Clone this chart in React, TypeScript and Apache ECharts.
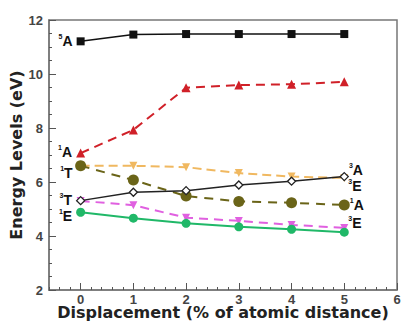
import React, { useEffect, useRef } from "react";
import * as echarts from "echarts";

const xValues = [0, 1, 2, 3, 4, 5];
const xTickLabels = [0, 1, 2, 3, 4, 5, 6];
const s5A = [11.21, 11.46, 11.48, 11.48, 11.48, 11.48];
const s1A = [7.07, 7.93, 9.49, 9.59, 9.62, 9.71];
const s1T = [6.6, 6.6, 6.55, 6.33, 6.2, 6.15];
const s3A = [5.31, 5.62, 5.68, 5.89, 6.03, 6.2];
const sOlive = [6.6, 6.07, 5.48, 5.28, 5.23, 5.15];
const s3E = [5.3, 5.14, 4.68, 4.56, 4.41, 4.3];
const s1E = [4.88, 4.66, 4.47, 4.34, 4.25, 4.14];

const FONT = "Liberation Sans";
const TITLE_FONT = "DejaVu Sans";

const rich = {
  s: { fontSize: 7, fontWeight: "bold", fontFamily: FONT, color: "#111", verticalAlign: "top", lineHeight: 16, padding: [0, 0, 8, 0] },
  b: { fontSize: 14, fontWeight: "bold", fontFamily: FONT, color: "#111", lineHeight: 16 },
};

function lbl(sup: string, letter: string, position: string, offset: number[]) {
  return {
    show: true,
    position,
    distance: 2,
    offset,
    formatter: `{s|${sup}}{b|${letter}}`,
    rich,
  };
}

function mkData(vals: number[], labels: Record<number, any>) {
  return vals.map((v, i) => (labels[i] ? { value: [xValues[i], v], label: labels[i] } : { value: [xValues[i], v] }));
}

export default function App() {
  const ref = useRef<HTMLDivElement>(null);
  useEffect(() => {
    const chart = echarts.init(ref.current!, null, { renderer: "svg" });
    const axisLabelStyle = { color: "#444", fontSize: 13, fontWeight: "bold", fontFamily: FONT };
    const tickColor = "#555";
    chart.setOption({
      animation: false,
      grid: { left: 49, top: 20, right: 6, bottom: 35, show: true, borderColor: "#777", borderWidth: 1.5, containLabel: false, outerBoundsMode: "none" },
      xAxis: [
        {
          type: "value",
          min: -0.6,
          max: 6,
          interval: 0.2,
          axisLine: { show: true, onZero: false, lineStyle: { color: "#777", width: 1.5 } },
          axisTick: { show: true, inside: false, length: -3, lineStyle: { color: tickColor, width: 1 } },
          axisLabel: { show: false },
          splitLine: { show: false },
        },
        {
          type: "value",
          position: "bottom",
          min: -0.6,
          max: 6,
          axisLine: { show: false, onZero: false },
          axisTick: { show: true, inside: false, length: -7, lineStyle: { color: tickColor, width: 1 }, customValues: xTickLabels },
          axisLabel: { ...axisLabelStyle, margin: 3, customValues: xTickLabels },
          splitLine: { show: false },
          name: "Displacement (% of atomic distance)",
          nameLocation: "middle",
          nameMoveOverlap: false,
          nameGap: 14,
          nameTextStyle: { fontSize: 16, fontWeight: "bold", fontFamily: TITLE_FONT, color: "#222" },
        },
      ],
      yAxis: {
        type: "value",
        min: 2,
        max: 12,
        interval: 2,
        axisLine: { show: true, onZero: false, lineStyle: { color: "#777", width: 1.5 } },
        axisTick: { show: true, inside: false, length: -7, lineStyle: { color: tickColor, width: 1 } },
        minorTick: { show: true, splitNumber: 4, length: -3, lineStyle: { color: tickColor, width: 1 } },
        axisLabel: { ...axisLabelStyle, margin: 6 },
        splitLine: { show: false },
        name: "Energy Levels (eV)",
        nameLocation: "middle",
        nameMoveOverlap: false,
        nameGap: 25,
        nameTextStyle: { fontSize: 16, fontWeight: "bold", fontFamily: TITLE_FONT, color: "#222" },
      },
      series: [
        {
          type: "line",
          data: mkData(s1T, { 0: lbl("1", "T", "left", [-2, 7]), 5: lbl("3", "E", "right", [-2, 8]) }),
          symbol: "triangle",
          symbolRotate: 180,
          symbolSize: 8,
          itemStyle: { color: "#f0b860" },
          lineStyle: { color: "#f0b860", width: 2, type: [9, 5] },
          z: 2,
        },
        {
          type: "line",
          data: mkData(sOlive, { 5: lbl("1", "A", "right", [-2, 0]) }),
          symbol: "circle",
          symbolSize: 11,
          itemStyle: { color: "#6a6418" },
          lineStyle: { color: "#6a6418", width: 2, type: [9, 7] },
          z: 3,
        },
        {
          type: "line",
          data: mkData(s3E, { 5: lbl("3", "E", "right", [-2, -5]) }),
          symbol: "triangle",
          symbolRotate: 180,
          symbolSize: 8,
          itemStyle: { color: "#e060e0" },
          lineStyle: { color: "#e060e0", width: 2, type: [9, 6] },
          z: 3,
        },
        {
          type: "line",
          data: mkData(s1E, { 0: lbl("1", "E", "left", [-2, 4]) }),
          symbol: "circle",
          symbolSize: 9,
          itemStyle: { color: "#20b868" },
          lineStyle: { color: "#20b868", width: 2 },
          z: 4,
        },
        {
          type: "line",
          data: mkData(s3A, { 0: lbl("3", "T", "left", [-2, -1]), 5: lbl("3", "A", "right", [-2, -7]) }),
          symbol: "diamond",
          symbolSize: 8,
          itemStyle: { color: "#fff", borderColor: "#222", borderWidth: 1.3 },
          lineStyle: { color: "#222", width: 1.5 },
          z: 5,
        },
        {
          type: "line",
          data: mkData(s1A, { 0: lbl("1", "A", "left", [-2, -1]) }),
          symbol: "triangle",
          symbolSize: 9,
          itemStyle: { color: "#d02028" },
          lineStyle: { color: "#d02028", width: 2, type: [9, 6] },
          z: 4,
        },
        {
          type: "line",
          data: mkData(s5A, { 0: lbl("5", "A", "left", [-2, 0]) }),
          symbol: "rect",
          symbolSize: 8,
          itemStyle: { color: "#111" },
          lineStyle: { color: "#111", width: 1.5 },
          z: 5,
        },
      ],
    });
    return () => chart.dispose();
  }, []);
  return <div ref={ref} style={{ position: "absolute", left: 0, top: 0, width: 403, height: 325 }} />;
}
